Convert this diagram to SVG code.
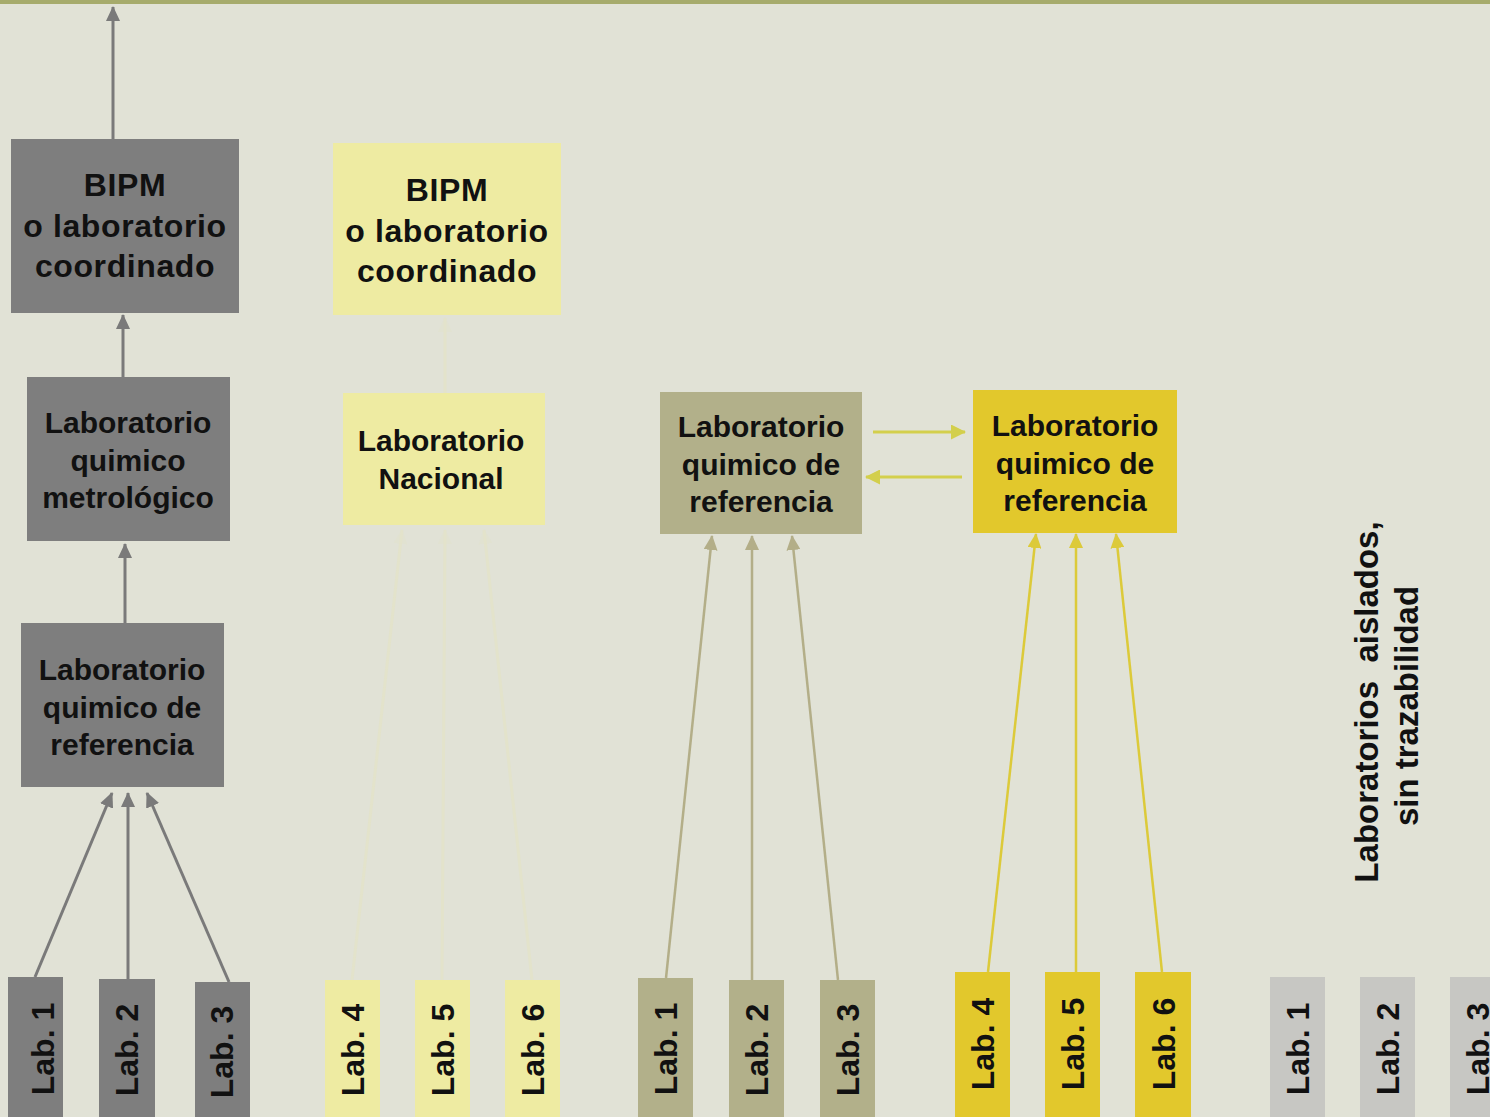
<svg xmlns="http://www.w3.org/2000/svg" width="1490" height="1117" viewBox="0 0 1490 1117">
<style>
.t{font-family:"Liberation Sans",Arial,sans-serif;font-weight:bold;fill:#111;text-anchor:middle}
.big{font-size:32px;letter-spacing:0.6px}
.mid{font-size:30px}
.lab{font-size:32px}
.dk{fill:#7e7e7e}
.ly{fill:#eeeba2}
.kh{fill:#b2b08a}
.ye{fill:#e2c82c}
.lg{fill:#c7c7c3}
.cg{stroke:#7a7a7a;stroke-width:3;fill:none}
.ck{stroke:#b3ae88;stroke-width:2.5;fill:none}
.cy{stroke:#dcca3a;stroke-width:2.5;fill:none}
.ch{stroke:#d3cf4c;stroke-width:3;fill:none}
.cf{stroke:#e6e5bf;stroke-width:3;fill:none;opacity:0.45}
</style>
<defs>
<marker id="ag" viewBox="0 0 15 14" refX="14" refY="7" markerWidth="15" markerHeight="14" markerUnits="userSpaceOnUse" orient="auto"><path d="M0,0 L15,7 L0,14 Z" fill="#7a7a7a"/></marker>
<marker id="ak" viewBox="0 0 15 14" refX="14" refY="7" markerWidth="15" markerHeight="14" markerUnits="userSpaceOnUse" orient="auto"><path d="M0,0 L15,7 L0,14 Z" fill="#b3ae88"/></marker>
<marker id="ay" viewBox="0 0 15 14" refX="14" refY="7" markerWidth="15" markerHeight="14" markerUnits="userSpaceOnUse" orient="auto"><path d="M0,0 L15,7 L0,14 Z" fill="#dcca3a"/></marker>
<marker id="ah" viewBox="0 0 15 15" refX="14" refY="7.5" markerWidth="15" markerHeight="15" markerUnits="userSpaceOnUse" orient="auto"><path d="M0,0 L15,7.5 L0,15 Z" fill="#d3cf4c"/></marker>
<marker id="af" viewBox="0 0 15 14" refX="14" refY="7" markerWidth="15" markerHeight="14" markerUnits="userSpaceOnUse" orient="auto"><path d="M0,0 L15,7 L0,14 Z" fill="#e6e5bf" opacity="0.45"/></marker>
</defs>
<rect x="0" y="0" width="1490" height="1117" fill="#e1e2d6"/>
<rect x="0" y="0" width="1490" height="4" fill="#a6ab6c"/>

<g id="connectors">
<line class="cg" x1="113" y1="139" x2="113" y2="7" marker-end="url(#ag)"/>
<line class="cg" x1="123" y1="377" x2="123" y2="315" marker-end="url(#ag)"/>
<line class="cg" x1="125" y1="623" x2="125" y2="544" marker-end="url(#ag)"/>
<line class="cg" x1="35" y1="977" x2="112" y2="793" marker-end="url(#ag)"/>
<line class="cg" x1="128" y1="979" x2="128" y2="793" marker-end="url(#ag)"/>
<line class="cg" x1="229" y1="982" x2="147" y2="793" marker-end="url(#ag)"/>

<line class="cf" x1="445" y1="393" x2="445" y2="318" marker-end="url(#af)"/>
<line class="cf" x1="352" y1="980" x2="402" y2="530" marker-end="url(#af)"/>
<line class="cf" x1="442" y1="980" x2="445" y2="530" marker-end="url(#af)"/>
<line class="cf" x1="532" y1="980" x2="484" y2="530" marker-end="url(#af)"/>

<line class="ck" x1="666" y1="978" x2="712" y2="536" marker-end="url(#ak)"/>
<line class="ck" x1="752" y1="980" x2="752" y2="536" marker-end="url(#ak)"/>
<line class="ck" x1="838" y1="980" x2="792" y2="536" marker-end="url(#ak)"/>

<line class="ch" x1="873" y1="432" x2="965" y2="432" marker-end="url(#ah)"/>
<line class="ch" x1="962" y1="477" x2="866" y2="477" marker-end="url(#ah)"/>

<line class="cy" x1="988" y1="972" x2="1036" y2="534" marker-end="url(#ay)"/>
<line class="cy" x1="1076" y1="972" x2="1076" y2="534" marker-end="url(#ay)"/>
<line class="cy" x1="1162" y1="972" x2="1116" y2="534" marker-end="url(#ay)"/>
</g>

<!-- Column 1 -->
<g id="bipm1"><rect class="dk" x="11" y="139" width="228" height="174"/>
<text class="t big" x="125" y="196">BIPM</text><text class="t big" x="125" y="237">o laboratorio</text><text class="t big" x="125" y="277">coordinado</text></g>
<g id="metro1"><rect class="dk" x="27" y="377" width="203" height="164"/>
<text class="t mid" x="128" y="433">Laboratorio</text><text class="t mid" x="128" y="471">quimico</text><text class="t mid" x="128" y="508">metrológico</text></g>
<g id="ref1"><rect class="dk" x="21" y="623" width="203" height="164"/>
<text class="t mid" x="122" y="680">Laboratorio</text><text class="t mid" x="122" y="718">quimico de</text><text class="t mid" x="122" y="755">referencia</text></g>
<g id="c1lab1"><rect class="dk" x="8" y="977" width="55" height="140"/><text class="t lab" transform="translate(54,1049) rotate(-90)">Lab. 1</text></g>
<g id="c1lab2"><rect class="dk" x="99" y="979" width="56" height="138"/><text class="t lab" transform="translate(138,1050) rotate(-90)">Lab. 2</text></g>
<g id="c1lab3"><rect class="dk" x="195" y="982" width="55" height="135"/><text class="t lab" transform="translate(233,1052) rotate(-90)">Lab. 3</text></g>

<!-- Column 2 -->
<g id="bipm2"><rect class="ly" x="333" y="143" width="228" height="172"/>
<text class="t big" x="447" y="201">BIPM</text><text class="t big" x="447" y="242">o laboratorio</text><text class="t big" x="447" y="282">coordinado</text></g>
<g id="nacional2"><rect class="ly" x="343" y="393" width="202" height="132"/>
<text class="t mid" x="441" y="451">Laboratorio</text><text class="t mid" x="441" y="489">Nacional</text></g>
<g id="c2lab4"><rect class="ly" x="325" y="980" width="55" height="137"/><text class="t lab" transform="translate(364,1050) rotate(-90)">Lab. 4</text></g>
<g id="c2lab5"><rect class="ly" x="415" y="980" width="55" height="137"/><text class="t lab" transform="translate(454,1050) rotate(-90)">Lab. 5</text></g>
<g id="c2lab6"><rect class="ly" x="505" y="980" width="55" height="137"/><text class="t lab" transform="translate(544,1050) rotate(-90)">Lab. 6</text></g>

<!-- Column 3 -->
<g id="ref3"><rect class="kh" x="660" y="392" width="202" height="142"/>
<text class="t mid" x="761" y="437">Laboratorio</text><text class="t mid" x="761" y="475">quimico de</text><text class="t mid" x="761" y="512">referencia</text></g>
<g id="c3lab1"><rect class="kh" x="638" y="978" width="55" height="139"/><text class="t lab" transform="translate(677,1049) rotate(-90)">Lab. 1</text></g>
<g id="c3lab2"><rect class="kh" x="729" y="980" width="55" height="137"/><text class="t lab" transform="translate(768,1050) rotate(-90)">Lab. 2</text></g>
<g id="c3lab3"><rect class="kh" x="820" y="980" width="55" height="137"/><text class="t lab" transform="translate(859,1050) rotate(-90)">Lab. 3</text></g>

<!-- Column 4 -->
<g id="ref4"><rect class="ye" x="973" y="390" width="204" height="143"/>
<text class="t mid" x="1075" y="436">Laboratorio</text><text class="t mid" x="1075" y="474">quimico de</text><text class="t mid" x="1075" y="511">referencia</text></g>
<g id="c4lab4"><rect class="ye" x="955" y="972" width="55" height="145"/><text class="t lab" transform="translate(994,1044) rotate(-90)">Lab. 4</text></g>
<g id="c4lab5"><rect class="ye" x="1045" y="972" width="55" height="145"/><text class="t lab" transform="translate(1084,1044) rotate(-90)">Lab. 5</text></g>
<g id="c4lab6"><rect class="ye" x="1135" y="972" width="56" height="145"/><text class="t lab" transform="translate(1175,1044) rotate(-90)">Lab. 6</text></g>

<!-- Column 5 -->
<g id="aislados"><text class="t" style="font-size:33px" transform="translate(1378,702) rotate(-90)">Laboratorios&#160; aislados,</text>
<text class="t" style="font-size:33px" transform="translate(1418,706) rotate(-90)">sin trazabilidad</text></g>
<g id="c5lab1"><rect class="lg" x="1270" y="977" width="55" height="140"/><text class="t lab" transform="translate(1309,1049) rotate(-90)">Lab. 1</text></g>
<g id="c5lab2"><rect class="lg" x="1360" y="977" width="55" height="140"/><text class="t lab" transform="translate(1399,1049) rotate(-90)">Lab. 2</text></g>
<g id="c5lab3"><rect class="lg" x="1450" y="977" width="55" height="140"/><text class="t lab" transform="translate(1489,1049) rotate(-90)">Lab. 3</text></g>
</svg>
